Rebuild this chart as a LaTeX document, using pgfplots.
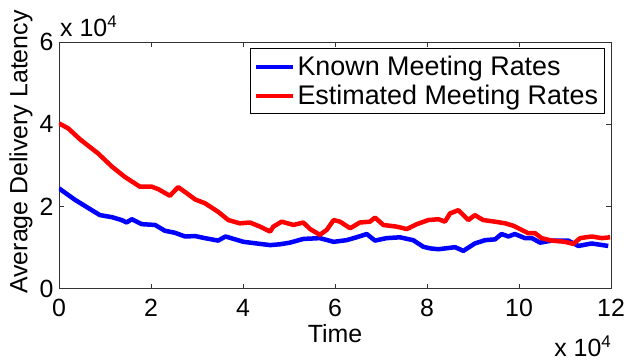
\documentclass[border=0pt]{standalone}
\usepackage{pgfplots}
\pgfplotsset{compat=1.18}
\usepackage{fontspec}
\setmainfont{Liberation Sans}
\begin{document}
\begin{tikzpicture}
\begin{axis}[
  scale only axis,
  width=552bp, height=246.7bp,
  xmin=0, xmax=12, ymin=0, ymax=6,
  xtick={0,2,4,6,8,10,12}, ytick={0,2,4,6},
  tick align=inside,
  major tick length=5bp,
  axis line style={line width=0.8bp, black!80},
  every tick/.style={line width=0.8bp, black!80},
  tick label style={font=\fontsize{25}{30}\selectfont},
  /pgf/number format/assume math mode=true,
  xticklabel style={yshift=-7bp},
  yticklabel style={xshift=-2bp},
  label style={font=\fontsize{25}{30}\selectfont},
  xlabel={Time},
  xlabel style={at={(axis description cs:0.5,-0.220)}, anchor=base},
  ylabel={Average Delivery Latency},
  ylabel style={at={(axis description cs:-0.0688,0.554)}, anchor=center, rotate=0},
  legend cell align=left,
  legend style={at={(axis description cs:0.989,0.9745)}, anchor=north east,
    draw=black, line width=0.8bp, font=\fontsize{27}{32}\selectfont,
    inner xsep=4bp, inner ysep=5bp, row sep=3bp,
    nodes={inner sep=2.5bp}},
  legend image code/.code={\draw[#1, line width=4bp] (0bp,0bp) -- (37bp,0bp);},
]
\addplot[blue, line width=4.5bp, line join=round] coordinates {
(0,2.44) (0.35,2.16) (0.64,1.96) (0.89,1.79) (1.15,1.74) (1.36,1.67) (1.47,1.61) (1.58,1.69)
(1.80,1.57) (2.09,1.55) (2.30,1.41) (2.52,1.36) (2.74,1.27) (2.96,1.28) (3.17,1.23) (3.46,1.17)
(3.62,1.27) (3.83,1.20) (4.01,1.14) (4.30,1.10) (4.59,1.06) (4.80,1.08) (5.02,1.12) (5.31,1.21)
(5.67,1.23) (5.97,1.14) (6.25,1.18) (6.47,1.25) (6.69,1.33) (6.87,1.17) (7.12,1.23) (7.41,1.25)
(7.70,1.18) (7.92,1.02) (8.07,0.98) (8.25,0.96) (8.61,1.01) (8.79,0.92) (9.04,1.10) (9.26,1.18)
(9.48,1.20) (9.62,1.33) (9.77,1.27) (9.91,1.33) (10.13,1.23) (10.28,1.23) (10.46,1.12) (10.71,1.17)
(11.07,1.17) (11.29,1.04) (11.58,1.10) (11.94,1.04)
};
\addlegendentry{Known Meeting Rates}
\addplot[red, line width=4.5bp, line join=round] coordinates {
(0,4.02) (0.2,3.90) (0.46,3.63) (0.85,3.29) (1.15,2.97) (1.43,2.72) (1.76,2.48) (2.02,2.48)
(2.16,2.42) (2.41,2.26) (2.59,2.47) (2.78,2.32) (2.96,2.17) (3.17,2.08) (3.46,1.87) (3.68,1.67)
(3.93,1.59) (4.15,1.61) (4.37,1.51) (4.59,1.39) (4.66,1.51) (4.84,1.63) (5.10,1.55) (5.31,1.61)
(5.46,1.45) (5.67,1.31) (5.82,1.43) (5.97,1.67) (6.11,1.63) (6.33,1.47) (6.54,1.61) (6.76,1.63)
(6.87,1.73) (7.05,1.55) (7.34,1.51) (7.56,1.45) (7.78,1.57) (8.03,1.67) (8.25,1.69) (8.39,1.63)
(8.50,1.83) (8.68,1.91) (8.90,1.67) (9.04,1.79) (9.22,1.67) (9.48,1.63) (9.70,1.59) (9.88,1.53)
(10.06,1.43) (10.20,1.35) (10.35,1.35) (10.49,1.23) (10.71,1.17) (11.00,1.14) (11.18,1.09) (11.33,1.23)
(11.58,1.27) (11.80,1.23) (11.98,1.25)
};
\addlegendentry{Estimated Meeting Rates}
\end{axis}
\node[anchor=base west, inner sep=0pt, font=\fontsize{25}{30}\selectfont] at (1bp,252bp) {x 10\raisebox{9bp}{\fontsize{17}{20}\selectfont 4}};
\node[anchor=base east, inner sep=0pt, font=\fontsize{25}{30}\selectfont] at (552bp,-68bp) {x 10\raisebox{9bp}{\fontsize{17}{20}\selectfont 4}};
\pgfresetboundingbox
\useasboundingbox (-59bp,-75.3bp) rectangle (568bp,288.7bp);
\end{tikzpicture}
\end{document}
